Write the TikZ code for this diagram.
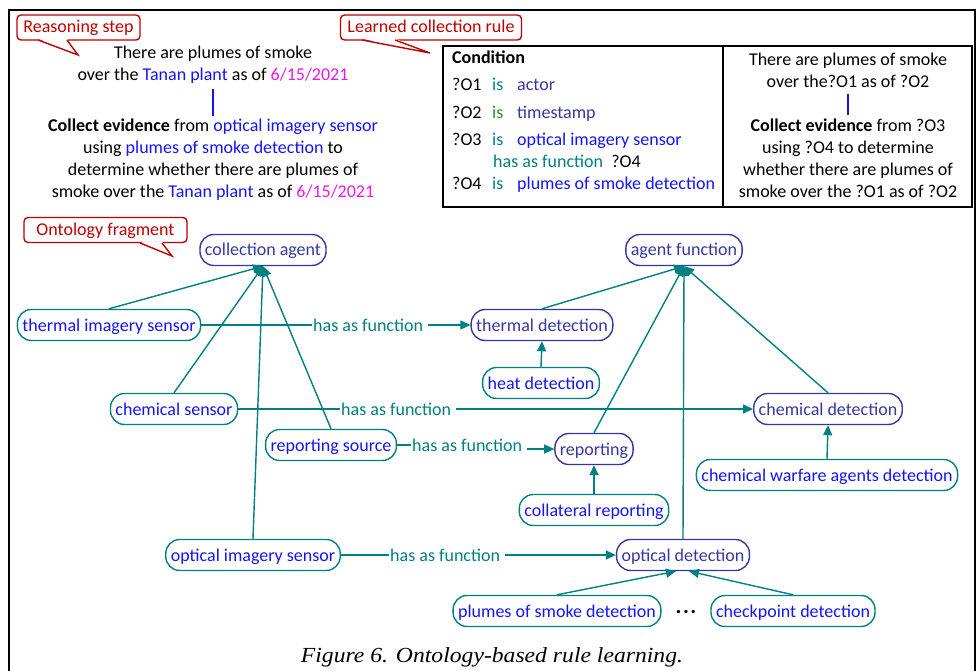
\documentclass[tikz,border=0pt]{standalone}
\usepackage{fontspec}
\setmainfont{Carlito}
\newfontfamily\capfont{Liberation Serif}
\usetikzlibrary{arrows.meta}
\definecolor{tealc}{RGB}{0,128,128}
\definecolor{indc}{RGB}{55,55,160}
\definecolor{bluec}{RGB}{20,20,245}
\definecolor{magc}{RGB}{235,25,235}
\definecolor{redc}{RGB}{192,0,0}
\definecolor{greenc}{RGB}{40,140,40}
\begin{document}
\begin{tikzpicture}[x=1pt,y=-1pt, font=\fontsize{18}{22}\selectfont,
 inst/.style={draw=tealc, text=bluec, line width=1.4pt, rounded corners=14pt, minimum height=31pt, inner xsep=5pt, inner ysep=0pt, text height=14.5pt, text depth=2.5pt},
 conc/.style={inst, draw=indc, text=indc},
 rel/.style={text=tealc, inner xsep=1pt, inner ysep=0pt},
 conn/.style={draw=tealc, line width=1.4pt},
 arr/.style={conn, -{Triangle[length=10pt,width=9pt]}},
 callout/.style={draw=redc, text=redc, line width=1.4pt, rounded corners=4pt, fill=white, minimum height=25pt, inner xsep=5pt, inner ysep=0pt, text height=14pt, text depth=3pt},
 tailst/.style={draw=redc, line width=1.4pt, line join=miter},
 cell/.style={anchor=base west, inner sep=0pt},
 txt/.style={align=center, inner sep=2pt},
]
\useasboundingbox (0,0) rectangle (978,671);
% outer frame
\draw[line width=2.2pt] (9,680) -- (9,10) -- (975,10) -- (975,680);

% callouts
\node[callout, minimum width=123pt] (c1) at (78.5,27.5) {Reasoning step};
\fill[white] (38,38.6) -- (78,55) -- (67,38.6) -- cycle;
\draw[tailst] (38,40) -- (78,55) -- (67,40);
\node[callout, minimum width=181pt] (c2) at (431,27.5) {Learned collection rule};
\fill[white] (362,38.6) -- (430,53) -- (395,38.6) -- cycle;
\draw[tailst] (362,40) -- (430,53) -- (395,40);
\node[callout, minimum width=163pt] (c3) at (105.5,230) {Ontology fragment};
\fill[white] (140,241.6) -- (172,256) -- (162,241.6) -- cycle;
\draw[tailst] (140,243) -- (172,256) -- (162,243);

% reasoning step text
\node[txt] (r1) at (213,65) {There are plumes of smoke\\over the \textcolor{bluec}{Tanan plant} as of \textcolor{magc}{6/15/2021}};
\node[txt] (r2) at (213,160) {\textbf{Collect evidence} from \textcolor{bluec}{optical imagery sensor}\\using \textcolor{bluec}{plumes of smoke detection} to\\determine whether there are plumes of\\smoke over the \textcolor{bluec}{Tanan plant} as of \textcolor{magc}{6/15/2021}};
\draw[bluec, line width=1.4pt, shorten <=3pt, shorten >=1pt] (r1.south) -- (r2.north);

% condition box
\node[draw, line width=1.4pt, minimum width=280pt, minimum height=161pt, inner sep=0pt] (cond) at (583,126.5) {};
\node[draw, line width=1.4pt, minimum width=249pt, minimum height=161pt, inner sep=0pt] (rbox) at (847.5,126.5) {};
\node[cell] (k0) at (452,64) {\textbf{Condition}};
\node[cell] (k1) at (452,91) {?O1};
\node[cell, text=tealc] (k1i) at (492,91) {is};
\node[cell, text=indc] (k1v) at (517,91) {actor};
\node[cell] (k2) at (452,119) {?O2};
\node[cell, text=greenc] (k2i) at (492,119) {is};
\node[cell, text=indc] (k2v) at (517,119) {timestamp};
\node[cell] (k3) at (452,146) {?O3};
\node[cell, text=tealc] (k3i) at (492,146) {is};
\node[cell, text=bluec] (k3v) at (517,146) {optical imagery sensor};
\node[cell] (k3f) at (493,168) {\textcolor{tealc}{has as function}\ \ ?O4};
\node[cell] (k4) at (452,190) {?O4};
\node[cell, text=tealc] (k4i) at (492,190) {is};
\node[cell, text=bluec] (k4v) at (517,190) {plumes of smoke detection};

\node[txt] (b1) at (848,70) {There are plumes of smoke\\over the?O1 as of ?O2};
\node[txt] (b2) at (848,158) {\textbf{Collect evidence} from ?O3\\using ?O4 to determine\\whether there are plumes of\\smoke over the ?O1 as of ?O2};
\draw[bluec, line width=1.4pt, shorten <=4pt, shorten >=1pt] (b1.south) -- (b2.north);

% ontology nodes
\node[conc] (ca) at (263,250) {collection agent};
\node[conc] (af) at (684,250) {agent function};
\node[inst] (tis) at (109,325) {thermal imagery sensor};
\node[conc] (td) at (542,325) {thermal detection};
\node[inst] (hd) at (541,383) {heat detection};
\node[inst] (cs) at (174,409) {chemical sensor};
\node[conc] (cd) at (828,409) {chemical detection};
\node[inst] (rsrc) at (331,445) {reporting source};
\node[conc] (rep) at (594,449) {reporting};
\node[inst] (colr) at (594,510) {collateral reporting};
\node[inst] (cwa) at (827,475) {chemical warfare agents detection};
\node[inst] (ois) at (253,555) {optical imagery sensor};
\node[conc] (od) at (683,555) {optical detection};
\node[inst] (psd) at (557,611) {plumes of smoke detection};
\node[inst] (cpd) at (793,611) {checkpoint detection};
\node[font=\bfseries\fontsize{22}{24}\selectfont, inner sep=0pt] (dots) at (686,612) {.\kern1.5pt.\kern1.5pt.};

% has as function relations
\node[rel, anchor=west] (l1) at (312,325) {has as function};
\draw[conn] (tis.east) -- (l1.west);
\draw[arr] ([xshift=4pt]l1.east) -- (td.west);
\node[rel, anchor=west] (l2) at (340,409) {has as function};
\draw[conn] (cs.east) -- (l2.west);
\draw[arr] ([xshift=4pt]l2.east) -- (cd.west);
\node[rel, anchor=west] (l3) at (411,445) {has as function};
\draw[conn] (rsrc.east) -- (l3.west);
\draw[arr] ([xshift=4pt]l3.east |- rep.west) -- (rep.west);
\node[rel, anchor=west] (l4) at (389,555) {has as function};
\draw[conn] (ois.east) -- (l4.west);
\draw[arr] ([xshift=4pt]l4.east) -- (od.west);

% hierarchy
\draw[arr] (tis.north) -- (ca.south);
\draw[arr] (cs.north) -- (ca.south);
\draw[arr] (ois.north) -- (ca.south);
\draw[arr] (rsrc.north) -- (ca.south);
\draw[arr] (td.north) -- (af.south);
\draw[arr] (rep.north) -- (af.south);
\draw[arr] (od.north) -- (af.south);
\draw[arr] (cd.north) -- (af.south);
\draw[arr] (hd.north) -- (td.south);
\draw[arr] (colr.north) -- (rep.south);
\draw[arr] (cwa.north) -- (cd.south);
\draw[arr] (psd.north) -- ([xshift=-7pt]od.south);
\draw[arr] (cpd.north) -- ([xshift=6pt]od.south);

% caption
\node[font=\capfont\itshape\fontsize{21.5}{24}\selectfont, inner sep=0pt] (cap) at (492,657) {\scalebox{1.1}[1]{Figure 6. Ontology-based rule learning.}};
\end{tikzpicture}
\end{document}
